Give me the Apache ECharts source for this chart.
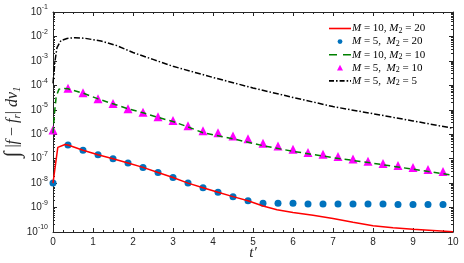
<!DOCTYPE html>
<html>
<head>
<meta charset="utf-8">
<script src="https://cdn.jsdelivr.net/npm/echarts@6/dist/echarts.min.js"></script>
<style>
  html, body { margin: 0; padding: 0; background: #fff; }
  #main { width: 464px; height: 263px; }
</style>
</head>
<body>
<div id="main"></div>
<script>
// sample times of the marker series
const tDots = [0, 0.375, 0.75, 1.125, 1.5, 1.875, 2.25, 2.625, 3, 3.375, 3.75, 4.125, 4.5, 4.875,
  5.25, 5.625, 6, 6.375, 6.75, 7.125, 7.5, 7.875, 8.25, 8.625, 9, 9.375, 9.75];
// M=5, M2=20 (blue dots)
const blueDots = [1e-8, 3.6e-7, 2.2e-7, 1.45e-7, 1.0e-7, 6.7e-8, 4.4e-8, 2.7e-8, 1.7e-8, 1.0e-8, 6.5e-9,
  4.2e-9, 2.8e-9, 1.9e-9, 1.5e-9, 1.5e-9, 1.5e-9, 1.4e-9, 1.4e-9, 1.4e-9, 1.4e-9, 1.4e-9, 1.4e-9,
  1.33e-9, 1.33e-9, 1.33e-9, 1.33e-9];
// M=5, M2=10 (magenta triangles)
const magTri = [1.5e-6, 7.6e-5, 5.0e-5, 2.8e-5, 1.8e-5, 1.1e-5, 7.9e-6, 5.2e-6, 3.6e-6, 2.2e-6, 1.4e-6,
  1.15e-6, 8.5e-7, 6.6e-7, 4.3e-7, 3.3e-7, 2.4e-7, 1.8e-7, 1.5e-7, 1.22e-7, 9.8e-8, 7.8e-8, 6.4e-8,
  5.3e-8, 4.4e-8, 3.6e-8, 3.0e-8];

// M=10, M2=20 (red line)
const tRed = [0, 0.12, 0.3, 0.375, 0.75, 1.125, 1.5, 1.875, 2.25, 2.625, 3, 3.375, 3.75, 4.125, 4.5,
  4.875, 5.25, 5.6, 6, 6.5, 7, 7.5, 8, 8.5, 9, 9.5, 10];
const red = [1e-8, 2.9e-7, 3.8e-7, 3.6e-7, 2.2e-7, 1.45e-7, 1.0e-7, 6.7e-8, 4.4e-8, 2.7e-8, 1.7e-8, 1.0e-8,
  6.5e-9, 4.2e-9, 2.8e-9, 1.9e-9, 1.15e-9, 8.2e-10, 6.3e-10, 4.8e-10, 3.6e-10, 2.5e-10, 1.8e-10,
  1.5e-10, 1.3e-10, 1.15e-10, 1.02e-10];

// M=10, M2=10 (green dashed)
const tGreen = [0, 0.04, 0.08, 0.15, 0.25, 0.375, 0.75, 1.125, 1.5, 1.875, 2.25, 2.625, 3, 3.375, 3.75,
  4.5, 5.25, 6, 7, 8, 9, 10];
const green = [1.1e-6, 8e-6, 3.5e-5, 7e-5, 7.5e-5, 7.2e-5, 4.8e-5, 2.8e-5, 1.75e-5, 1.1e-5, 7.5e-6, 4.9e-6,
  3.3e-6, 2.0e-6, 1.15e-6, 6.5e-7, 3.4e-7, 2.0e-7, 1.1e-7, 6.5e-8, 3.7e-8, 2.1e-8];

// M=5, M2=5 (black dash-dot)
const tBlack = [0, 0.05, 0.1, 0.2, 0.35, 0.55, 0.8, 1.2, 1.6, 2, 2.5, 3, 4, 5, 6, 7, 8, 9, 10];
const black = [1.2e-4, 1e-3, 3.5e-3, 6.8e-3, 8.3e-3, 8.9e-3, 8.4e-3, 6.5e-3, 4.2e-3, 2.2e-3, 1.15e-3,
  6.0e-4, 2.1e-4, 7.8e-5, 3.2e-5, 1.35e-5, 6.9e-6, 3.5e-6, 1.75e-6];

const names = ['M = 10, M_2 = 20', 'M = 5,  M_2 = 20', 'M = 10, M_2 = 10', 'M = 5,  M_2 = 10', 'M = 5,  M_2 = 5'];

function pairs(xs, ys) {
  return xs.map(function (x, i) { return [x, ys[i]]; });
}

const axisColor = '#262626';
const serif = 'Liberation Serif';
// legend icons, 22x10 box (the two leading moves pin the box)
const box = 'path://M0,0M22,10';
const icons = [
  box + 'M0,4.2h22v1.6h-22z',
  box + 'M8.6,5a2.4,2.4 0 1,0 4.8,0a2.4,2.4 0 1,0 -4.8,0z',
  box + 'M0,4.2h8v1.6h-8zM14,4.2h8v1.6h-8z',
  box + 'M11,2L14,7.6L8,7.6z',
  box + 'M0,4.2h5v1.6h-5zM7,4.2h1.6v1.6h-1.6zM10.6,4.2h5v1.6h-5zM17.6,4.2h1.6v1.6h-1.6zM21,4.2h1v1.6h-1z'
];

const chart = echarts.init(document.getElementById('main'), null, { renderer: 'canvas' });

const option = {
  animation: false,
  backgroundColor: '#fff',
  grid: { left: 53, right: 11, top: 12, bottom: 31, containLabel: false, outerBoundsMode: 'none' },
  legend: {
    orient: 'vertical',
    left: 329,
    top: 23,
    padding: 0,
    itemWidth: 22,
    itemHeight: 10,
    itemGap: 1.6,
    itemStyle: { borderWidth: 0 },
    textStyle: {
      fontFamily: serif,
      fontSize: 11,
      color: '#000',
      padding: [0, 0, 0, -4],
      rich: {
        i: { fontFamily: serif, fontStyle: 'italic', fontSize: 11, lineHeight: 12 },
        s: { fontFamily: serif, fontSize: 8, lineHeight: 8, verticalAlign: 'bottom' },
        n: { fontFamily: serif, fontSize: 11, lineHeight: 12 }
      }
    },
    formatter: function (name) {
      return '{n|' + name.replace(/M_2/, '}{i|M}{s|2}{n|').replace(/^M/, '}{i|M}{n|') + '}';
    },
    data: names.map(function (n, i) { return { name: n, icon: icons[i] }; })
  },
  xAxis: [{
    type: 'value',
    min: 0, max: 10, interval: 1,
    name: "t′",
    nameLocation: 'middle',
    nameGap: 14,
    nameMoveOverlap: false,
    nameTextStyle: { fontFamily: serif, fontStyle: 'italic', fontSize: 15, color: axisColor },
    axisLine: { show: true, lineStyle: { color: axisColor, width: 1 } },
    axisTick: { show: true, inside: true, length: 4, lineStyle: { color: axisColor } },
    minorTick: { show: true, splitNumber: 4, length: 2, lineStyle: { color: axisColor } },
    axisLabel: { color: axisColor, fontSize: 10, margin: 5, fontFamily: 'Liberation Sans' },
    splitLine: { show: false }
  }, {
    type: 'value',
    position: 'top',
    min: 0, max: 10, interval: 1,
    axisLine: { show: true, onZero: false, lineStyle: { color: axisColor, width: 1 } },
    axisTick: { show: true, inside: true, length: 4, lineStyle: { color: axisColor } },
    minorTick: { show: true, splitNumber: 4, length: 2, lineStyle: { color: axisColor } },
    axisLabel: { show: false },
    splitLine: { show: false }
  }],
  yAxis: [{
    type: 'log',
    logBase: 10,
    min: 1e-10, max: 1e-1, interval: 1,
    name: '{b|∫} |{i|f} − {i|f}{s|r}| {i|dv}{s|1}',
    nameLocation: 'middle',
    nameRotate: 90,
    nameGap: 30,
    nameMoveOverlap: false,
    nameTextStyle: {
      fontFamily: serif, fontSize: 16, color: axisColor, lineHeight: 20,
      rich: {
        b: { fontFamily: serif, fontSize: 22, lineHeight: 20, color: axisColor },
        i: { fontFamily: serif, fontStyle: 'italic', fontSize: 16, lineHeight: 20, color: axisColor },
        s: { fontFamily: serif, fontStyle: 'italic', fontSize: 11, lineHeight: 11, verticalAlign: 'bottom', color: axisColor }
      }
    },
    axisLine: { show: true, onZero: false, lineStyle: { color: axisColor, width: 1 } },
    axisTick: { show: true, inside: true, length: 4, lineStyle: { color: axisColor } },
    minorTick: { show: true, splitNumber: 9, length: 2, lineStyle: { color: axisColor } },
    axisLabel: {
      color: axisColor, margin: 5,
      formatter: function (v) { return '{b|10}{s|' + Math.round(Math.log10(v)) + '}'; },
      rich: {
        b: { fontSize: 10, lineHeight: 16, color: axisColor, fontFamily: 'Liberation Sans' },
        s: { fontSize: 7, lineHeight: 9, verticalAlign: 'top', color: axisColor, fontFamily: 'Liberation Sans' }
      }
    },
    splitLine: { show: false }
  }, {
    type: 'log',
    logBase: 10,
    position: 'right',
    min: 1e-10, max: 1e-1, interval: 1,
    axisLine: { show: true, onZero: false, lineStyle: { color: axisColor, width: 1 } },
    axisTick: { show: true, inside: true, length: 4, lineStyle: { color: axisColor } },
    minorTick: { show: true, splitNumber: 9, length: 2, lineStyle: { color: axisColor } },
    axisLabel: { show: false },
    splitLine: { show: false }
  }],
  series: [{
    name: names[0],
    type: 'line',
    data: pairs(tRed, red),
    symbol: 'none',
    itemStyle: { color: '#FF0000' },
    lineStyle: { color: '#FF0000', width: 1.5 }
  }, {
    name: names[1],
    type: 'scatter',
    data: pairs(tDots, blueDots),
    symbol: 'circle',
    symbolSize: 7,
    itemStyle: { color: '#0072BD', opacity: 1 }
  }, {
    name: names[2],
    type: 'line',
    data: pairs(tGreen, green),
    symbol: 'none',
    itemStyle: { color: '#008000' },
    lineStyle: { color: '#008000', width: 1.5, type: [6, 4] }
  }, {
    name: names[3],
    type: 'scatter',
    data: pairs(tDots, magTri),
    symbol: 'triangle',
    symbolSize: 9,
    itemStyle: { color: '#FF00FF', opacity: 1 }
  }, {
    name: names[4],
    type: 'line',
    data: pairs(tBlack, black),
    symbol: 'none',
    itemStyle: { color: '#000' },
    lineStyle: { color: '#000', width: 1.5, type: [6, 2, 1.5, 2] }
  }]
};

chart.setOption(option);
</script>
</body>
</html>
